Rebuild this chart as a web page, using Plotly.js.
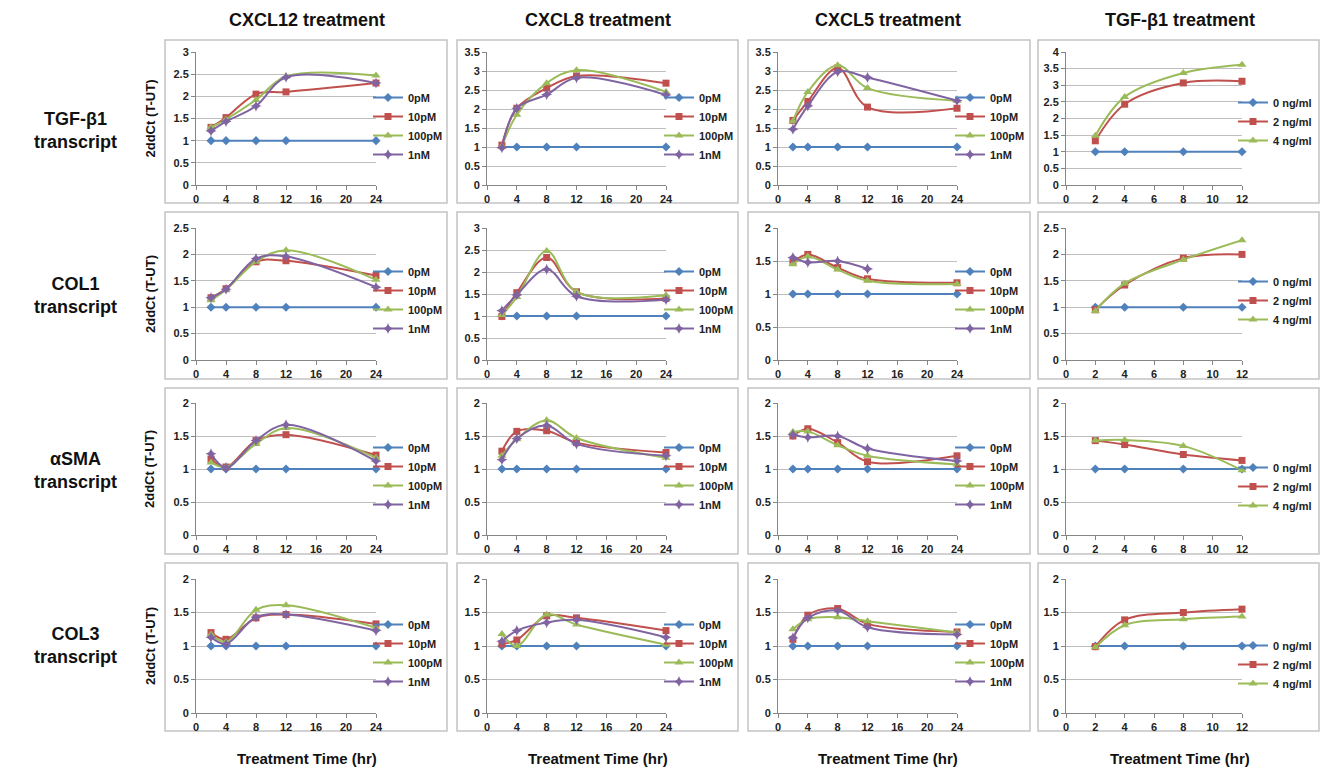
<!DOCTYPE html>
<html><head><meta charset="utf-8">
<script src="https://cdn.plot.ly/plotly-3.0.1.min.js"></script>
<style>html,body{margin:0;padding:0;background:#fff}</style>
</head><body><div id="chart" style="width:1321px;height:771px"></div>
<script>
// ---------- DATA ----------
const timesCXCL = [2, 4, 8, 12, 24];
const timesTGF = [2, 4, 8, 12];
const dosesCXCL = ['0pM', '10pM', '100pM', '1nM'];
const dosesTGF = ['0 ng/ml', '2 ng/ml', '4 ng/ml'];
const treatments = ['CXCL12 treatment', 'CXCL8 treatment', 'CXCL5 treatment', 'TGF-β1 treatment'];
const transcripts = ['TGF-β1<br>transcript', 'COL1<br>transcript', 'αSMA<br>transcript', 'COL3<br>transcript'];
const yAxisTitle = '2ddCt (T-UT)';
const xAxisTitle = 'Treatment Time (hr)';
const yAxisMax = [[3, 3.5, 3.5, 4], [2.5, 3, 2, 2.5], [2, 2, 2, 2], [2, 2, 2, 2]];

// TGF-β1 transcript
const tgfb1_CXCL12 = [[1,1,1,1,1],[1.30,1.52,2.05,2.10,2.30],[1.30,1.48,1.92,2.45,2.47],[1.22,1.43,1.78,2.43,2.30]];
const tgfb1_CXCL8  = [[1,1,1,1,1],[1.05,2.02,2.55,2.87,2.68],[1.02,1.85,2.68,3.02,2.45],[0.98,2.02,2.38,2.82,2.37]];
const tgfb1_CXCL5  = [[1,1,1,1,1],[1.70,2.20,3.08,2.05,2.02],[1.68,2.45,3.15,2.55,2.22],[1.47,2.08,2.98,2.83,2.22]];
const tgfb1_TGFB1  = [[1,1,1,1],[1.33,2.43,3.07,3.12],[1.48,2.65,3.37,3.62]];
// COL1 transcript
const col1_CXCL12 = [[1,1,1,1,1],[1.18,1.35,1.86,1.88,1.60],[1.13,1.33,1.86,2.08,1.52],[1.18,1.34,1.92,1.96,1.38]];
const col1_CXCL8  = [[1,1,1,1,1],[0.99,1.53,2.33,1.55,1.40],[1.02,1.43,2.48,1.55,1.47],[1.12,1.48,2.06,1.45,1.37]];
const col1_CXCL5  = [[1,1,1,1,1],[1.48,1.60,1.40,1.23,1.17],[1.45,1.57,1.37,1.20,1.15],[1.55,1.48,1.50,1.38,null]];
const col1_TGFB1  = [[1,1,1,1],[0.95,1.42,1.93,2.00],[0.93,1.45,1.90,2.27]];
// αSMA transcript
const asma_CXCL12 = [[1,1,1,1,1],[1.15,1.03,1.43,1.52,1.21],[1.10,1.03,1.38,1.62,1.17],[1.23,1.02,1.43,1.67,1.12]];
const asma_CXCL8  = [[1,1,1,1,1],[1.27,1.57,1.58,1.40,1.25],[1.20,1.45,1.74,1.47,1.17],[1.14,1.46,1.66,1.38,1.20]];
const asma_CXCL5  = [[1,1,1,1,1],[1.50,1.61,1.40,1.11,1.20],[1.56,1.57,1.36,1.20,1.07],[1.52,1.48,1.50,1.31,1.12]];
const asma_TGFB1  = [[1,1,1,1],[1.43,1.37,1.22,1.13],[1.43,1.44,1.35,0.98]];
// COL3 transcript
const col3_CXCL12 = [[1,1,1,1,1],[1.20,1.10,1.42,1.47,1.33],[1.17,1.06,1.54,1.61,1.27],[1.13,1.03,1.43,1.47,1.23]];
const col3_CXCL8  = [[1,1,1,1,1],[1.03,1.09,1.45,1.42,1.23],[1.18,1.00,1.47,1.32,1.02],[1.07,1.23,1.35,1.39,1.13]];
const col3_CXCL5  = [[1,1,1,1,1],[1.10,1.46,1.56,1.33,1.21],[1.25,1.40,1.43,1.37,1.20],[1.12,1.42,1.53,1.28,1.17]];
const col3_TGFB1  = [[1,1,1,1],[0.99,1.39,1.50,1.55],[0.98,1.31,1.40,1.44]];

const panels = [
  [tgfb1_CXCL12, tgfb1_CXCL8, tgfb1_CXCL5, tgfb1_TGFB1],
  [col1_CXCL12, col1_CXCL8, col1_CXCL5, col1_TGFB1],
  [asma_CXCL12, asma_CXCL8, asma_CXCL5, asma_TGFB1],
  [col3_CXCL12, col3_CXCL8, col3_CXCL5, col3_TGFB1]
];

// ---------- STYLE / LAYOUT ----------
const W = 1321, H = 771;
const FONT = 'Liberation Sans, Arial, sans-serif';
const colors = ['#4F81BD', '#C0504D', '#9BBB59', '#8064A2'];
const symbols = ['diamond', 'square', 'triangle-up', 'star-diamond'];
const msizes = [7, 7, 8, 8];
const colAxisPx = [[196, 376], [487, 666], [778, 957], [1066, 1242]];
const rowAxisPx = [[52, 185], [228, 360], [403, 535], [579, 713]];
const boxColPx = [[165, 447], [457, 738], [748, 1030], [1038, 1319]];
const boxRowPx = [[40, 203], [212, 379], [388, 554], [563, 731]];
const legXPx = [368, 659, 950, 1233];
const legYPx = [[83, 83, 83, 88], [257, 257, 257, 267], [433, 433, 433, 453], [610, 610, 610, 631]];
const colCenters = [307, 598, 888, 1180];
const rowCenters = [130, 295, 470, 645];

const px = v => v / W;
const py = v => 1 - v / H;

const traces = [];
const layout = {
  width: W, height: H,
  margin: {l: 0, r: 0, t: 0, b: 0},
  paper_bgcolor: '#fff', plot_bgcolor: '#fff',
  font: {family: FONT, color: '#222'},
  showlegend: true,
  shapes: [], annotations: []
};

for (let r = 0; r < 4; r++) {
  for (let c = 0; c < 4; c++) {
    const idx = r * 4 + c + 1;
    const sfx = idx > 1 ? String(idx) : '';
    const isTGF = c === 3;
    const times = isTGF ? timesTGF : timesCXCL;
    const doses = isTGF ? dosesTGF : dosesCXCL;
    const legName = 'legend' + sfx;
    const series = panels[r][c];
    series.forEach((vals, s) => {
      traces.push({
        type: 'scatter', mode: 'lines+markers',
        x: times, y: vals, name: doses[s],
        xaxis: 'x' + sfx, yaxis: 'y' + sfx, legend: legName,
        line: {color: colors[s], width: 2, shape: 'spline', smoothing: 1},
        marker: {symbol: symbols[s], size: msizes[s], color: colors[s]},
        cliponaxis: false, connectgaps: false, hoverinfo: 'skip'
      });
    });
    layout['xaxis' + sfx] = {
      domain: [px(colAxisPx[c][0]), px(colAxisPx[c][1])],
      anchor: 'y' + sfx, range: [0, isTGF ? 12 : 24], tick0: 0, dtick: isTGF ? 2 : 4,
      showgrid: false, zeroline: false, showline: true, linecolor: '#868686', linewidth: 1,
      ticks: 'outside', ticklen: 4, tickcolor: '#868686',
      tickfont: {size: 11, color: '#222', family: FONT, weight: 'bold'}, fixedrange: true
    };
    layout['yaxis' + sfx] = {
      domain: [py(rowAxisPx[r][1]), py(rowAxisPx[r][0])],
      anchor: 'x' + sfx, range: [0, yAxisMax[r][c]], tick0: 0, dtick: 0.5,
      showgrid: true, gridcolor: '#bfbfbf', gridwidth: 1, zeroline: false,
      showline: true, linecolor: '#868686', linewidth: 1,
      ticks: 'outside', ticklen: 4, tickcolor: '#868686',
      tickfont: {size: 11, color: '#222', family: FONT, weight: 'bold'}, fixedrange: true
    };
    layout[legName] = {
      x: px(legXPx[c]), y: py(legYPx[r][c]), xanchor: 'left', yanchor: 'top',
      bgcolor: 'rgba(0,0,0,0)', borderwidth: 0, itemwidth: 30,
      font: {size: 11, color: '#222', family: FONT, weight: 'bold'},
      traceorder: 'normal', itemclick: false, itemdoubleclick: false
    };
    layout.shapes.push({
      type: 'rect', xref: 'paper', yref: 'paper',
      x0: px(boxColPx[c][0]), x1: px(boxColPx[c][1]),
      y0: py(boxRowPx[r][1]), y1: py(boxRowPx[r][0]),
      line: {color: '#c4c4c4', width: 1.5}, fillcolor: 'rgba(0,0,0,0)', layer: 'below'
    });
  }
}

// column titles
treatments.forEach((t, c) => layout.annotations.push({
  text: t, xref: 'paper', yref: 'paper', x: px(colCenters[c]), y: py(20),
  xanchor: 'center', yanchor: 'middle', showarrow: false,
  font: {size: 18, family: FONT, color: '#111', weight: 'bold'}
}));
// x-axis titles
colCenters.forEach(cx => layout.annotations.push({
  text: xAxisTitle, xref: 'paper', yref: 'paper', x: px(cx), y: py(758),
  xanchor: 'center', yanchor: 'middle', showarrow: false,
  font: {size: 15, family: FONT, color: '#111', weight: 'bold'}
}));
// row labels and y-axis titles
transcripts.forEach((t, r) => {
  layout.annotations.push({
    text: t, xref: 'paper', yref: 'paper', x: px(75), y: py(rowCenters[r]),
    xanchor: 'center', yanchor: 'middle', showarrow: false, align: 'center',
    font: {size: 18, family: FONT, color: '#111', weight: 'bold'}
  });
  layout.annotations.push({
    text: yAxisTitle, xref: 'paper', yref: 'paper', x: px(150),
    y: py((rowAxisPx[r][0] + rowAxisPx[r][1]) / 2), textangle: -90,
    xanchor: 'center', yanchor: 'middle', showarrow: false,
    font: {size: 13, family: FONT, color: '#111', weight: 'bold'}
  });
});

Plotly.newPlot('chart', traces, layout, {displayModeBar: false, staticPlot: true});
</script>
</body></html>
